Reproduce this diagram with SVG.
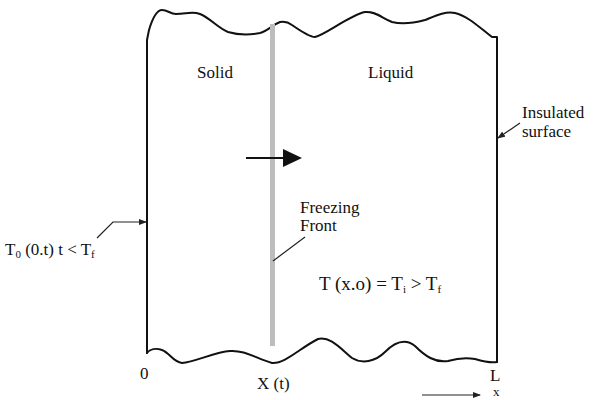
<svg xmlns="http://www.w3.org/2000/svg" width="601" height="400" viewBox="0 0 601 400">
<style>
.t{font-family:"Liberation Serif","Times New Roman",serif;font-size:17px;fill:#111}
.s{font-size:11px}
.ln{fill:none;stroke:#111;stroke-width:2;stroke-linecap:round;stroke-linejoin:round}
.thin{fill:none;stroke:#222;stroke-width:1.2}
</style>
<defs>
<marker id="ah" markerWidth="8" markerHeight="6" refX="7" refY="3" orient="auto" markerUnits="userSpaceOnUse">
<path d="M0,0 L8,3 L0,6 Z" fill="#222"/>
</marker>
</defs>
<rect width="601" height="400" fill="#fff"/>
<g id="slab">
<path class="ln" d="M147,353 L147,40 L149,30 C152,20 156,10 162,10 C168,10 170,14 176,14 C186,14 192,11 200,14 C210,18 218,28 228,32 C238,35 250,35 260,33 C268,31 272,25 280,22 C285,21 288,22 292,25 C302,32 310,37 315,37 C325,35 350,15 365,12 C375,11 382,18 392,22 C400,24 410,24 425,20 C435,16 445,11 455,13 C468,16 480,28 492,37 L497,37 L497,362"/>
<path class="ln" d="M147,353 C150,349 156,348 162,350 C170,353 173,362 182,363 C195,362 215,352 230,351 C245,350 255,358 272,363 C285,364 300,348 318,339 C330,336 340,348 352,358 C362,364 375,362 385,352 C395,342 405,338 415,346 C425,356 435,363 448,361 C458,358 465,357 475,359 C485,362 492,363 497,362"/>
</g>
<g id="front">
<rect x="270" y="24" width="5" height="322" fill="#bdbdbd"/>
</g>
<g id="motion-arrow">
<line x1="246" y1="158" x2="285" y2="158" stroke="#111" stroke-width="2"/>
<path d="M283,149 L302,158 L283,167 Z" fill="#111"/>
</g>
<g id="labels">
<text class="t" x="197" y="78">Solid</text>
<text class="t" x="368" y="78">Liquid</text>
<text class="t" x="300" y="213">Freezing</text>
<text class="t" x="300" y="231">Front</text>
<text class="t" x="522" y="118">Insulated</text>
<text class="t" x="522" y="137">surface</text>
<text class="t" x="5" y="255">T<tspan class="s" dy="3">0</tspan><tspan dy="-3"> (0.t) t &lt; T</tspan><tspan class="s" dy="3">f</tspan></text>
<text class="t" x="319" y="290" style="font-size:19px">T (x.o) = T<tspan class="s" dy="3">i</tspan><tspan dy="-3"> &gt; T</tspan><tspan class="s" dy="3">f</tspan></text>
<text class="t" x="140" y="379">0</text>
<text class="t" x="257" y="389">X (t)</text>
<text class="t" x="490" y="381">L</text>
<text class="t" x="493" y="396" style="font-size:13px">x</text>
</g>
<g id="connectors">
<polyline class="thin" points="97,238 113,222 146,222" marker-end="url(#ah)"/>
<line class="thin" x1="520" y1="123" x2="498" y2="138" marker-end="url(#ah)"/>
<line class="thin" x1="305" y1="237" x2="273" y2="261"/>
<line class="thin" x1="422" y1="395" x2="480" y2="395" marker-end="url(#ah)"/>
</g>
</svg>
